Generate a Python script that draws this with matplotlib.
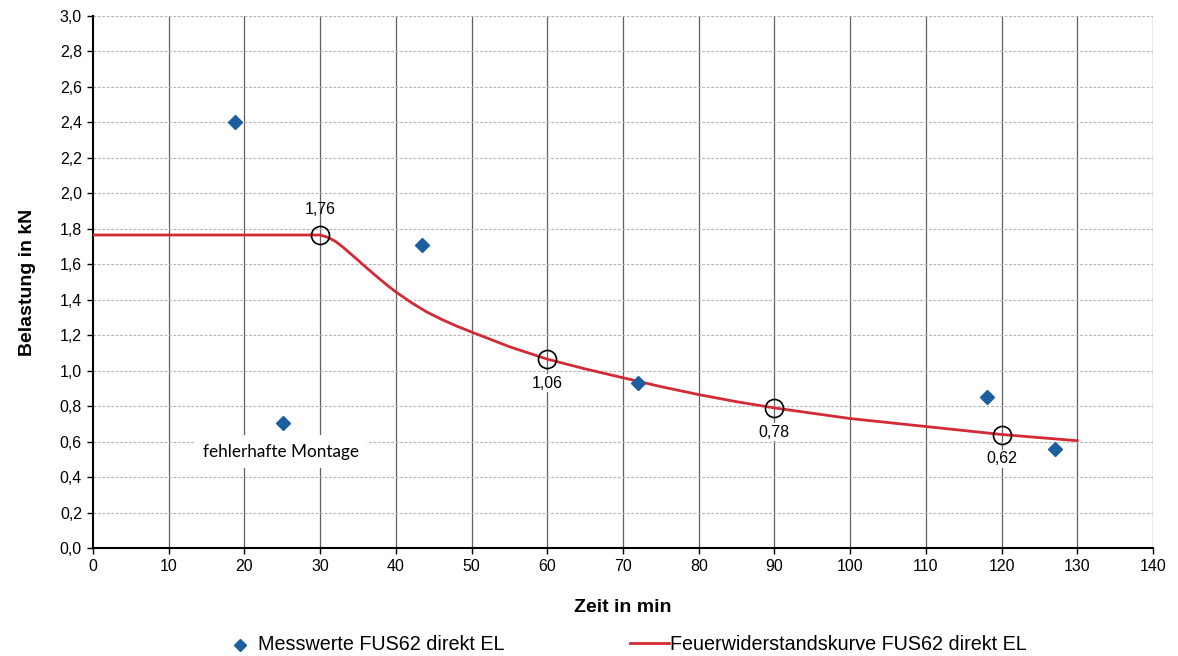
import matplotlib
matplotlib.use("Agg")
import matplotlib.pyplot as plt
from matplotlib.lines import Line2D

# Data
meas_x = [18.8, 25.1, 43.5, 72.0, 118.1, 127.1]
meas_y = [2.40, 0.705, 1.71, 0.93, 0.85, 0.557]

curve_x = [0, 30, 31, 32, 33, 34, 35, 36, 37, 38, 39, 40, 42, 44, 46, 48, 50,
           55, 60, 65, 70, 75, 80, 85, 90, 100, 110, 120, 130]
curve_y = [1.765, 1.765, 1.752, 1.73, 1.697, 1.66, 1.623, 1.585, 1.548, 1.512, 1.477, 1.444,
           1.385, 1.333, 1.29, 1.252, 1.218, 1.135, 1.065, 1.01, 0.96, 0.91, 0.865, 0.825,
           0.79, 0.73, 0.685, 0.64, 0.605]

mark_x = [30, 60, 90, 120]
mark_y = [1.765, 1.065, 0.79, 0.64]
mark_labels = ["1,76", "1,06", "0,78", "0,62"]
mark_pos = ["above", "below", "below", "below"]

x_ticks = list(range(0, 141, 10))
y_ticks = [i * 0.2 for i in range(16)]
y_tick_labels = [f"{v:.1f}".replace(".", ",") for v in y_ticks]

plt.rcParams['font.family'] = ['Liberation Sans', 'DejaVu Sans']

W, H = 1178, 656
fig = plt.figure(figsize=(W / 100, H / 100), dpi=100)
ax = fig.add_axes([93/W, 1 - 548/H, (1153-93)/W, (548-16)/H])

ax.set_xlim(0, 140)
ax.set_ylim(0, 3.0)
ax.set_xticks(x_ticks)
ax.set_xticklabels([str(v) for v in x_ticks], fontsize=11.5)
ax.set_yticks(y_ticks)
ax.set_yticklabels(y_tick_labels, fontsize=11.5)

# grid
for xv in x_ticks[1:]:
    ax.axvline(xv, color='#606060', lw=0.9, zorder=1)
for yv in y_ticks[1:]:
    ax.axhline(yv, color='#b4b4b4', lw=0.8, ls=(0, (2.5, 1.5)), zorder=1)

for s in ['top', 'right']:
    ax.spines[s].set_visible(False)
ax.spines['left'].set_linewidth(1.5)
ax.spines['bottom'].set_linewidth(1.5)
ax.tick_params(axis='both', direction='out', length=4, width=1, pad=4)

# curve
ax.plot(curve_x, curve_y, color='#d42a35', lw=2, zorder=3)
# measurement points
ax.plot(meas_x, meas_y, ls='none', marker='D', markersize=7, color='#1c5f9e', zorder=6)
# circle markers + labels
ax.plot(mark_x, mark_y, ls='none', marker='o', markersize=13, markerfacecolor='none',
        markeredgecolor='black', markeredgewidth=1.2, zorder=5)
for x, y, lab, pos in zip(mark_x, mark_y, mark_labels, mark_pos):
    if pos == "above":
        ax.annotate(lab, (x, y), xytext=(0, 13), textcoords='offset points',
                    ha='center', va='bottom', fontsize=11.5, zorder=7)
    else:
        ax.annotate(lab, (x, y), xytext=(0, -12), textcoords='offset points',
                    ha='center', va='top', fontsize=11.5, zorder=7,
                    bbox=dict(facecolor='white', edgecolor='none', pad=1))

ax.text(24.8, 0.543, "fehlerhafte Montage", ha='center', va='center', fontsize=12.3,
        family=['Lato', 'DejaVu Sans'], zorder=4,
        bbox=dict(facecolor='white', edgecolor='none', pad=6))

ax.set_xlabel("Zeit in min", fontsize=14, fontweight='bold', labelpad=18)
ax.set_ylabel("Belastung in kN", fontsize=14, fontweight='bold', labelpad=17)

# legend (placed manually, as in the reference)
ly = 1 - 645/H
fig.add_artist(Line2D([240/W], [ly], ls='none', marker='D', markersize=6,
                      color='#1c5f9e', transform=fig.transFigure))
fig.text(258/W, ly, "Messwerte FUS62 direkt EL", fontsize=14.2, va='center', ha='left')
fig.add_artist(Line2D([630/W, 669/W], [ly + 2/H, ly + 2/H], color='#d42a35', lw=2,
                      transform=fig.transFigure))
fig.text(670/W, ly, "Feuerwiderstandskurve FUS62 direkt EL", fontsize=14.2, va='center', ha='left')

fig.savefig("out.png", dpi=100)
